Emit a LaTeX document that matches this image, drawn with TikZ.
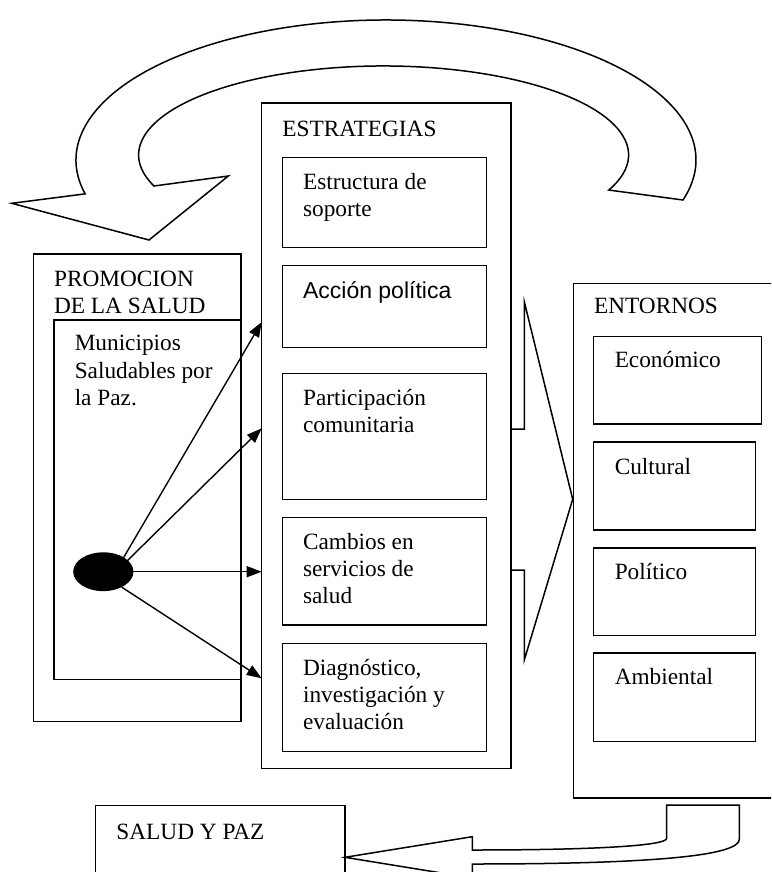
\documentclass[tikz,border=0pt]{standalone}
\usepackage{fontspec}
\setmainfont{Liberation Serif}
\newfontfamily\arialfont{Liberation Sans}
\usetikzlibrary{arrows.meta,shapes.geometric}
\newcommand{\txtlines}[1]{\begin{tabular}[t]{@{}l@{}}#1\end{tabular}}
\begin{document}
\begin{tikzpicture}[x=1pt,y=-1pt, line width=1.5pt,
  box/.style={draw, line width=1.5pt, anchor=north west, inner sep=0pt, outer sep=0pt},
  lbl/.style={anchor=base west, inner sep=0pt, font=\fontsize{23.3}{27.3}\selectfont},
  arr/.style={-{Triangle[length=15pt,width=11pt]}, line width=1.4pt},
  outline/.style={draw, line width=1.5pt, line join=miter}]
\useasboundingbox (0,0) rectangle (771,872);
\clip (0,0) rectangle (771,872);

% PROMOCION DE LA SALUD
\node[box, minimum width=207.7pt, minimum height=467.7pt] (promo) at (33.3,254) {};
\node[box, minimum width=187pt, minimum height=359.3pt] (muni) at (54,320) {};
\node[lbl] (promoT) at (53.3,286) {\txtlines{PROMOCION\\DE LA SALUD}};
\node[lbl] (muniT) at (74,350.7) {\txtlines{Municipios\\Saludables por\\la Paz.}};
\node[draw, fill=black, ellipse, minimum width=58.7pt, minimum height=37.3pt, inner sep=0pt] (ell) at (103.3,571.7) {};

% ESTRATEGIAS
\node[box, minimum width=249.3pt, minimum height=665.5pt] (strat) at (261.7,103) {};
\node[lbl] (stratT) at (281.7,136) {ESTRATEGIAS};
\node[box, minimum width=204.2pt, minimum height=90pt] (s1) at (282.3,157.3) {};
\node[box, minimum width=204.2pt, minimum height=82pt] (s2) at (282.3,265.7) {};
\node[box, minimum width=204.2pt, minimum height=126pt] (s3) at (282.3,373.3) {};
\node[box, minimum width=204.2pt, minimum height=107.7pt] (s4) at (282.3,517.3) {};
\node[box, minimum width=204.2pt, minimum height=108.4pt] (s5) at (282.3,643.3) {};
\node[lbl] (s1T) at (302.3,189) {\txtlines{Estructura de\\soporte}};
\node[lbl, font=\arialfont\fontsize{23}{27.3}\selectfont] (s2T) at (302.3,298) {Acción política};
\node[lbl] (s3T) at (302.3,405) {\txtlines{Participación\\comunitaria}};
\node[lbl] (s4T) at (302.3,549) {\txtlines{Cambios en\\servicios de\\salud}};
\node[lbl] (s5T) at (302.3,675) {\txtlines{Diagnóstico,\\investigación y\\evaluación}};

% arrows from the ellipse
\coordinate (t1) at (261.7,322);
\coordinate (t2) at (261.7,428.3);
\coordinate (t3) at (261.7,571.7);
\coordinate (t4) at (261.7,678.3);
\draw[arr] (ell.35) -- (t1);
\draw[arr] (ell.25) -- (t2);
\draw[arr] (ell.east) -- (t3);
\draw[arr] (ell.-40) -- (t4);

% ENTORNOS
\node[box, minimum width=230pt, minimum height=514.5pt] (ent) at (573.3,283.5) {};
\node[lbl] (entT) at (593.3,313.9) {ENTORNOS};
\node[box, minimum width=167.8pt, minimum height=87.7pt] (e1) at (593.7,336.5) {};
\node[box, minimum width=162pt, minimum height=87.8pt] (e2) at (593.7,442.1) {};
\node[box, minimum width=162pt, minimum height=87.7pt] (e3) at (593.7,547.8) {};
\node[box, minimum width=162pt, minimum height=88.5pt] (e4) at (593.7,653) {};
\node[lbl] (e1T) at (614,367.9) {Económico};
\node[lbl] (e2T) at (614,474.2) {Cultural};
\node[lbl] (e3T) at (614,579.8) {Político};
\node[lbl] (e4T) at (614,684.4) {Ambiental};

% bracket arrow between ESTRATEGIAS and ENTORNOS
\coordinate (btip) at (572.7,499.3);
\draw[outline] (511,429) -- (524.3,429) -- (524.3,301.7) -- (btip) -- (524.3,660) -- (524.3,570) -- (511,570);

% SALUD Y PAZ
\node[box, minimum width=249.3pt, minimum height=120pt] (salud) at (95.7,805.7) {};
\node[lbl] (saludT) at (115.7,839) {SALUD Y PAZ};

% bottom curved arrow
\draw[outline] (472.3,850) .. controls (590,850) and (666.7,846) .. (666.7,838.3)
  -- (666.7,805) -- (739.3,805) -- (739.3,839.3)
  .. controls (739.3,856) and (650,864) .. (472.3,864)
  -- (472.3,878) -- (345,857.3) -- (472.3,836.7) -- cycle;

% top curved arrow
\draw[outline] (683,200) arc[start angle=-16.6, end angle=194, x radius=310pt, y radius=140pt]
  -- (11.7,203.3) -- (149,240) -- (228.3,176) -- (154,186)
  arc[start angle=200.4, end angle=-23.2, x radius=245pt, y radius=89pt]
  -- cycle;
\end{tikzpicture}
\end{document}
